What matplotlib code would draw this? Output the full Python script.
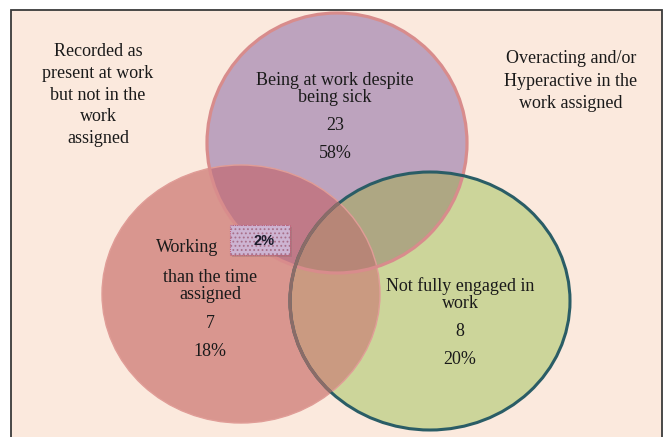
import numpy as np
import matplotlib
matplotlib.use("Agg")
import matplotlib.pyplot as plt
from matplotlib.patches import Ellipse, Rectangle, Polygon

# ---- data ----
set_labels = ["Being at work despite\nbeing sick", "Working\nthan the time\nassigned", "Not fully engaged in\nwork"]
set_counts = [23, 7, 8]
set_percents = ["58%", "18%", "20%"]
overlap_label = "2%"
outside_labels = ["Recorded as\npresent at work\nbut not in the\nwork\nassigned",
                  "Overacting and/or\nHyperactive in the\nwork assigned"]

# ---- layout (pixel coordinates) ----
W, H = 664, 437
centers = [(337, 143), (241, 294), (430, 301)]
radii = [(130, 130), (139, 129), (140, 129)]
fills = ["#BDA3BE", "#D9968F", "#CCD59A"]
pair_colors = {(0, 1): "#C07A88", (0, 2): "#AEA783", (1, 2): "#CA9A81"}
triple_color = "#B78677"
BG = "#FBE9DD"
SERIF = ["Liberation Serif", "DejaVu Serif"]

fig = plt.figure(figsize=(W / 100, H / 100), dpi=100)
ax = fig.add_axes([0, 0, 1, 1])
ax.set_xlim(0, W)
ax.set_ylim(H, 0)
ax.axis("off")
fig.patch.set_facecolor("white")

# frame
ax.add_patch(Rectangle((10.5, 9.5), 651, 440, facecolor=BG, edgecolor="#3a3a3a", lw=1.3, zorder=0))


def ellipse_poly(c, r, n=400):
    t = np.linspace(0, 2 * np.pi, n, endpoint=False)
    return [(c[0] + r[0] * np.cos(a), c[1] + r[1] * np.sin(a)) for a in t]


def clip(subject, clipper):
    def inside(p, a, b):
        return (b[0] - a[0]) * (p[1] - a[1]) - (b[1] - a[1]) * (p[0] - a[0]) >= 0

    def inter(s, e, a, b):
        x1, y1 = s; x2, y2 = e; x3, y3 = a; x4, y4 = b
        d = (x1 - x2) * (y3 - y4) - (y1 - y2) * (x3 - x4)
        if abs(d) < 1e-12:
            return e
        t = ((x1 - x3) * (y3 - y4) - (y1 - y3) * (x3 - x4)) / d
        return (x1 + t * (x2 - x1), y1 + t * (y2 - y1))

    out = subject
    for i in range(len(clipper)):
        a, b = clipper[i - 1], clipper[i]
        inp, out = out, []
        if not inp:
            break
        s = inp[-1]
        for e in inp:
            if inside(e, a, b):
                if not inside(s, a, b):
                    out.append(inter(s, e, a, b))
                out.append(e)
            elif inside(s, a, b):
                out.append(inter(s, e, a, b))
            s = e
    return out


polys = [ellipse_poly(c, r) for c, r in zip(centers, radii)]

# base fills
for p, col in zip(polys, fills):
    ax.add_patch(Polygon(p, closed=True, facecolor=col, edgecolor="none", zorder=1))
# pairwise overlaps
for (i, j), col in pair_colors.items():
    q = clip(polys[i], polys[j])
    ax.add_patch(Polygon(q, closed=True, facecolor=col, edgecolor="none", zorder=2))
# triple overlap
q = clip(clip(polys[0], polys[1]), polys[2])
ax.add_patch(Polygon(q, closed=True, facecolor=triple_color, edgecolor="none", zorder=3))

# edges
ax.add_patch(Ellipse(centers[1], 2 * radii[1][0], 2 * radii[1][1], facecolor="none",
                     edgecolor="#E09D97", lw=1.0, zorder=4))
ax.add_patch(Ellipse(centers[0], 2 * radii[0][0], 2 * radii[0][1], facecolor="none",
                     edgecolor="#D88C8C", lw=2.3, zorder=5))
ax.add_patch(Ellipse(centers[2], 2 * radii[2][0], 2 * radii[2][1], facecolor="none",
                     edgecolor="#2A5D66", lw=2.2, zorder=5))
clip_left = Ellipse(centers[1], 2 * radii[1][0], 2 * radii[1][1], transform=ax.transData)
faded = Ellipse(centers[2], 2 * radii[2][0], 2 * radii[2][1], facecolor="none",
                edgecolor="#8A6C68", lw=2.4, zorder=6)
ax.add_patch(faded)
faded.set_clip_path(clip_left)

# texts
txt_kw = dict(family=SERIF, fontsize=13, color="#1a1a1a", ha="center", va="center", zorder=10)
# top set
ax.text(335, 89, set_labels[0], linespacing=1.0, **txt_kw)
ax.text(335, 126, str(set_counts[0]), **txt_kw)
ax.text(335, 154, set_percents[0], **txt_kw)
# left set
left_lines = set_labels[1].split("\n")
kw_left = dict(txt_kw); kw_left["ha"] = "left"
ax.text(156, 248, left_lines[0], **kw_left)
ax.text(210, 286, "\n".join(left_lines[1:]), linespacing=1.0, **txt_kw)
ax.text(210, 323, str(set_counts[1]), **txt_kw)
ax.text(210, 351, set_percents[1], **txt_kw)
# right set
ax.text(460, 295, set_labels[2], linespacing=1.0, **txt_kw)
ax.text(460, 332, str(set_counts[2]), **txt_kw)
ax.text(460, 360, set_percents[2], **txt_kw)
# outside
ax.text(98, 95, outside_labels[0], linespacing=1.38, **txt_kw)
ax.text(571, 81, outside_labels[1], linespacing=1.4, **txt_kw)

# 2% box
bx, by, bw, bh = 230, 225, 60, 30
ax.add_patch(Rectangle((bx + 2, by + 2), bw, bh, facecolor="#8a7070", alpha=0.35, edgecolor="none", zorder=11))
ax.add_patch(Rectangle((bx, by), bw, bh, facecolor="#CDB4D2", edgecolor="none", zorder=12))
plt.rcParams["hatch.linewidth"] = 0.8
ax.add_patch(Rectangle((bx, by), bw, bh, facecolor="none", edgecolor="#A8708A", lw=0,
                       hatch="....", zorder=13))
ax.add_patch(Rectangle((bx, by), bw, bh, facecolor="none", edgecolor="#C0607A", lw=0.8,
                       linestyle=(0, (1, 1)), zorder=14))
ax.text(bx + 34, by + 16, overlap_label, family=["Liberation Sans", "DejaVu Sans"], fontsize=10.5,
        fontweight="bold", color="#1a1a2a", ha="center", va="center", zorder=15)

fig.savefig("out.png", dpi=100, facecolor="white")
